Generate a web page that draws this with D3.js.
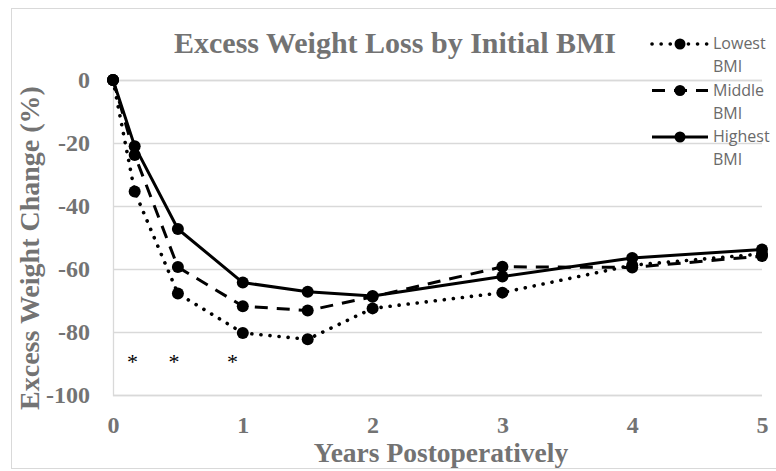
<!DOCTYPE html>
<html>
<head>
<meta charset="utf-8">
<script src="https://cdn.jsdelivr.net/npm/d3@7"></script>
<style>
    body { margin: 0; background: #fff; }
    svg { display: block; }
</style>
</head>
<body>
<div id="chart"></div>
<script>
// values
var years = [0, 0.167, 0.5, 1, 1.5, 2, 3, 4, 5];
var lowestBMI = [0, -35.4, -67.8, -80.3, -82.3, -72.5, -67.5, -58.8, -55.2];
var middleBMI = [0, -23.8, -59.4, -71.8, -73.2, -68.8, -59.3, -59.5, -55.9];
var highestBMI = [0, -21.0, -47.3, -64.3, -67.2, -68.6, -62.4, -56.5, -53.8];
var seriesNames = ['Lowest BMI', 'Middle BMI', 'Highest BMI'];
var xTicks = [0, 1, 2, 3, 4, 5];
var yTicks = [0, -20, -40, -60, -80, -100];
var starX = [0.15, 0.47, 0.92];
var starY = -88;

var width = 776;
var height = 471;
var grey = '#737373';
var gridColor = '#d9d9d9';
var serif = '"Liberation Serif", "Times New Roman", serif';

var series = [
    { name: seriesNames[0], values: lowestBMI, dash: '0.1,9', cap: 'round', sw: 3.6 },
    { name: seriesNames[1], values: middleBMI, dash: '13,9', cap: 'butt', sw: 3 },
    { name: seriesNames[2], values: highestBMI, dash: null, cap: 'butt', sw: 3 }
];

var x = d3.scaleLinear().domain([0, 5]).range([113, 762]);
var y = d3.scaleLinear().domain([-100, 0]).range([395, 80]);

var svg = d3.select('#chart').append('svg')
    .attr('width', width)
    .attr('height', height);

// chart area border
svg.append('rect')
    .attr('x', 11.5).attr('y', 8.5)
    .attr('width', 780).attr('height', 460)
    .attr('fill', 'none')
    .attr('stroke', gridColor);

// y axis + grid
var yAxis = d3.axisLeft(y)
    .tickValues(yTicks)
    .tickSize(-(x.range()[1] - x.range()[0]))
    .tickPadding(23)
    .tickFormat(d3.format('d'));

var yGroup = svg.append('g')
    .attr('transform', 'translate(' + x.range()[0] + ',0)')
    .call(yAxis);
yGroup.select('.domain').attr('stroke', gridColor).attr('stroke-width', 1.3);
yGroup.selectAll('.tick line').attr('stroke', gridColor).attr('stroke-width', 1.3);
yGroup.selectAll('.tick text')
    .attr('fill', grey)
    .attr('font-family', serif)
    .attr('font-weight', 'bold')
    .attr('font-size', 24)
    .text(d => d === 0 ? '0' : '-' + Math.abs(d));

// x axis labels
var xAxis = d3.axisBottom(x)
    .tickValues(xTicks)
    .tickSize(0)
    .tickPadding(0)
    .tickFormat(d3.format('d'));
var xGroup = svg.append('g')
    .attr('transform', 'translate(0,' + y.range()[0] + ')')
    .call(xAxis);
xGroup.select('.domain').remove();
xGroup.selectAll('.tick text')
    .attr('y', 38)
    .attr('dy', 0)
    .attr('fill', grey)
    .attr('font-family', serif)
    .attr('font-weight', 'bold')
    .attr('font-size', 24);

// titles
svg.append('text')
    .attr('x', 395).attr('y', 53)
    .attr('text-anchor', 'middle')
    .attr('fill', grey)
    .attr('font-family', serif)
    .attr('font-weight', 'bold')
    .attr('font-size', 30)
    .text('Excess Weight Loss by Initial BMI');

svg.append('text')
    .attr('x', 441).attr('y', 462)
    .attr('text-anchor', 'middle')
    .attr('fill', grey)
    .attr('font-family', serif)
    .attr('font-weight', 'bold')
    .attr('font-size', 27.5)
    .text('Years Postoperatively');

svg.append('text')
    .attr('transform', 'translate(39,248) rotate(-90)')
    .attr('text-anchor', 'middle')
    .attr('fill', grey)
    .attr('font-family', serif)
    .attr('font-weight', 'bold')
    .attr('font-size', 28)
    .text('Excess Weight Change (%)');

// lines and markers
var line = d3.line()
    .x((d, i) => x(years[i]))
    .y(d => y(d));

var g = svg.append('g');
series.forEach(function (s) {
    g.append('path')
        .attr('d', line(s.values))
        .attr('fill', 'none')
        .attr('stroke', '#000')
        .attr('stroke-width', s.sw)
        .attr('stroke-linecap', s.cap)
        .attr('stroke-linejoin', 'round')
        .attr('stroke-dasharray', s.dash);
});
series.forEach(function (s) {
    g.append('g').selectAll('circle')
        .data(s.values)
        .enter().append('circle')
        .attr('cx', (d, i) => x(years[i]))
        .attr('cy', d => y(d))
        .attr('r', 6)
        .attr('fill', '#000');
});

// significance marks
svg.append('g').selectAll('text')
    .data(starX)
    .enter().append('text')
    .attr('x', d => x(d))
    .attr('y', y(starY) + 12)
    .attr('text-anchor', 'middle')
    .attr('font-family', serif)
    .attr('font-size', 22)
    .attr('fill', '#000')
    .text('*');

// legend
var legend = svg.append('g');
series.forEach(function (s, i) {
    var ly = 44 + i * 46.5;
    var row = legend.append('g').attr('transform', 'translate(0,' + ly + ')');
    row.append('line')
        .attr('x1', 652).attr('x2', 708)
        .attr('stroke', '#000')
        .attr('stroke-width', s.sw)
        .attr('stroke-linecap', s.cap)
        .attr('stroke-dasharray', s.dash);
    row.append('circle')
        .attr('cx', 680).attr('r', 5.5)
        .attr('fill', '#000');
    var words = s.name.split(' ');
    words.forEach(function (w, j) {
        row.append('text')
            .attr('x', 713)
            .attr('y', 5 + j * 23)
            .attr('fill', '#6a6a6a')
            .attr('font-family', '"Open Sans", sans-serif')
            .attr('font-size', 16)
            .text(w);
    });
});
</script>
</body>
</html>
